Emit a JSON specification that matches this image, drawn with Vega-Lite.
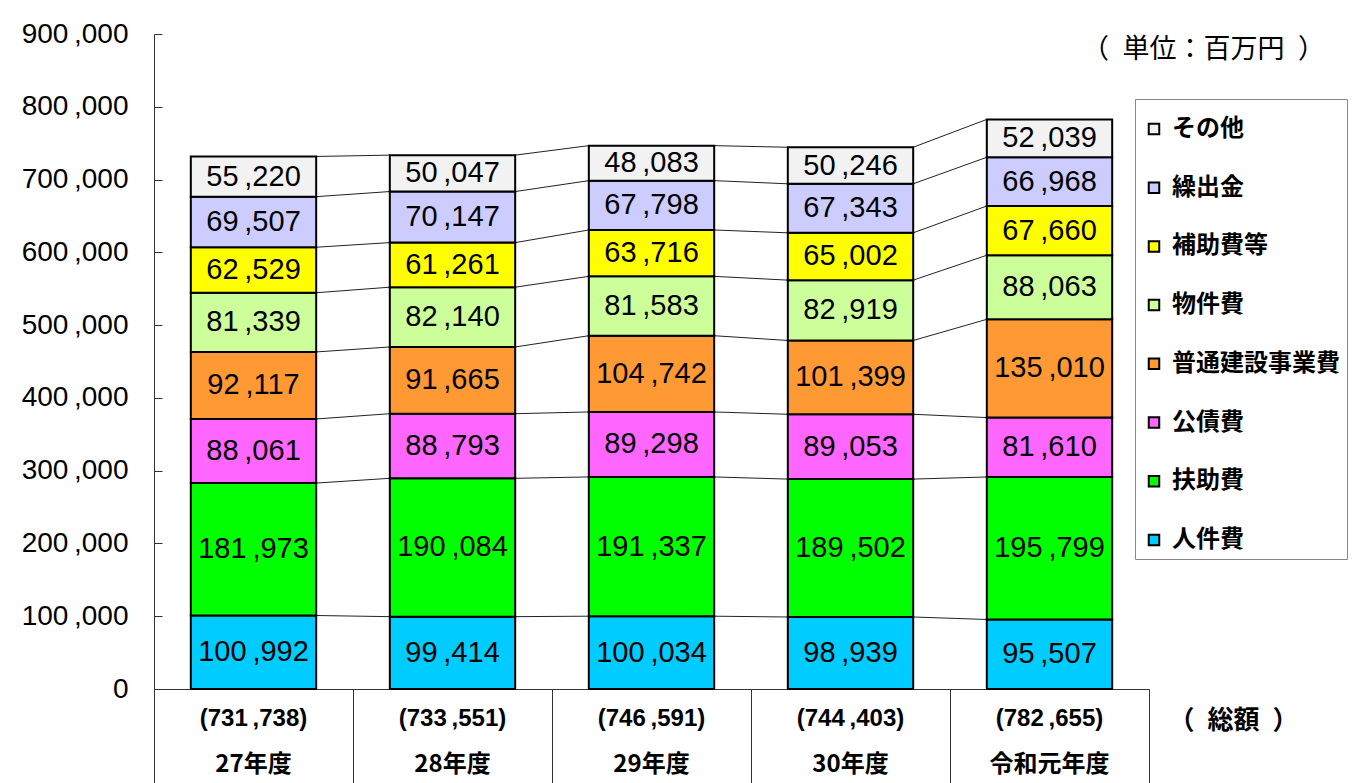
{
  "$schema": "https://vega.github.io/schema/vega-lite/v6.json",
  "autosize": {"type": "none"},
  "padding": {"left": 154, "top": 34, "right": 206, "bottom": 94},
  "width": 995,
  "height": 655,
  "background": "white",
  "title": {
    "text": "（\u2002単位：百万円\u2002）",
    "anchor": "end",
    "frame": "group",
    "orient": "top",
    "offset": 0,
    "baseline": "middle",
    "dx": 176,
    "dy": 57,
    "font": "Noto Sans CJK JP",
    "fontSize": 27,
    "fontWeight": "normal",
    "color": "#000000"
  },
  "datasets": {
    "costs": [
      {"year": "27年度", "item": "人件費", "value": 100992, "k": 1},
      {"year": "27年度", "item": "扶助費", "value": 181973, "k": 2},
      {"year": "27年度", "item": "公債費", "value": 88061, "k": 3},
      {"year": "27年度", "item": "普通建設事業費", "value": 92117, "k": 4},
      {"year": "27年度", "item": "物件費", "value": 81339, "k": 5},
      {"year": "27年度", "item": "補助費等", "value": 62529, "k": 6},
      {"year": "27年度", "item": "繰出金", "value": 69507, "k": 7},
      {"year": "27年度", "item": "その他", "value": 55220, "k": 8},
      {"year": "28年度", "item": "人件費", "value": 99414, "k": 1},
      {"year": "28年度", "item": "扶助費", "value": 190084, "k": 2},
      {"year": "28年度", "item": "公債費", "value": 88793, "k": 3},
      {"year": "28年度", "item": "普通建設事業費", "value": 91665, "k": 4},
      {"year": "28年度", "item": "物件費", "value": 82140, "k": 5},
      {"year": "28年度", "item": "補助費等", "value": 61261, "k": 6},
      {"year": "28年度", "item": "繰出金", "value": 70147, "k": 7},
      {"year": "28年度", "item": "その他", "value": 50047, "k": 8},
      {"year": "29年度", "item": "人件費", "value": 100034, "k": 1},
      {"year": "29年度", "item": "扶助費", "value": 191337, "k": 2},
      {"year": "29年度", "item": "公債費", "value": 89298, "k": 3},
      {"year": "29年度", "item": "普通建設事業費", "value": 104742, "k": 4},
      {"year": "29年度", "item": "物件費", "value": 81583, "k": 5},
      {"year": "29年度", "item": "補助費等", "value": 63716, "k": 6},
      {"year": "29年度", "item": "繰出金", "value": 67798, "k": 7},
      {"year": "29年度", "item": "その他", "value": 48083, "k": 8},
      {"year": "30年度", "item": "人件費", "value": 98939, "k": 1},
      {"year": "30年度", "item": "扶助費", "value": 189502, "k": 2},
      {"year": "30年度", "item": "公債費", "value": 89053, "k": 3},
      {"year": "30年度", "item": "普通建設事業費", "value": 101399, "k": 4},
      {"year": "30年度", "item": "物件費", "value": 82919, "k": 5},
      {"year": "30年度", "item": "補助費等", "value": 65002, "k": 6},
      {"year": "30年度", "item": "繰出金", "value": 67343, "k": 7},
      {"year": "30年度", "item": "その他", "value": 50246, "k": 8},
      {"year": "令和元年度", "item": "人件費", "value": 95507, "k": 1},
      {"year": "令和元年度", "item": "扶助費", "value": 195799, "k": 2},
      {"year": "令和元年度", "item": "公債費", "value": 81610, "k": 3},
      {"year": "令和元年度", "item": "普通建設事業費", "value": 135010, "k": 4},
      {"year": "令和元年度", "item": "物件費", "value": 88063, "k": 5},
      {"year": "令和元年度", "item": "補助費等", "value": 67660, "k": 6},
      {"year": "令和元年度", "item": "繰出金", "value": 66968, "k": 7},
      {"year": "令和元年度", "item": "その他", "value": 52039, "k": 8}
    ],
    "totals": [
      {"year": "27年度", "total": 731738},
      {"year": "28年度", "total": 733551},
      {"year": "29年度", "total": 746591},
      {"year": "30年度", "total": 744403},
      {"year": "令和元年度", "total": 782655}
    ]
  },
  "encoding": {
    "x": {
      "field": "year",
      "type": "nominal",
      "sort": ["27年度", "28年度", "29年度", "30年度", "令和元年度"],
      "scale": {"paddingInner": 0, "paddingOuter": 0},
      "axis": {
        "labels": false,
        "ticks": true,
        "tickBand": "extent",
        "tickSize": 94,
        "tickColor": "#333333",
        "tickWidth": 1,
        "domain": true,
        "domainColor": "#333333",
        "domainWidth": 1,
        "title": "（\u2002総額\u2002）",
        "titleX": 1079,
        "titleY": 31,
        "titleAlign": "center",
        "titleBaseline": "middle",
        "titleAngle": 0,
        "titleFont": "Noto Sans CJK JP",
        "titleFontSize": 26,
        "titleFontWeight": "bold",
        "titleColor": "#000000"
      }
    }
  },
  "layer": [
    {
      "data": {"name": "costs"},
      "transform": [
        {"stack": "value", "groupby": ["year"], "sort": [{"field": "k", "order": "ascending"}], "as": ["y0", "y1"]},
        {"window": [{"op": "lead", "field": "y1", "as": "next_y1"}, {"op": "lead", "field": "year", "as": "next_year"}], "groupby": ["item"], "sort": [{"field": "year", "order": "ascending"}], "frame": [null, null]},
        {"filter": "datum.next_year != null"}
      ],
      "mark": {"type": "rule", "color": "#222222", "strokeWidth": 1},
      "encoding": {
        "x": {"field": "year", "type": "nominal", "bandPosition": 0.815},
        "x2": {"field": "next_year", "bandPosition": 0.185},
        "y": {
          "field": "y1",
          "type": "quantitative",
          "scale": {"domain": [0, 900000], "nice": false, "zero": true},
          "axis": {
            "values": [0, 100000, 200000, 300000, 400000, 500000, 600000, 700000, 800000, 900000],
            "labelExpr": "replace(format(datum.value, ','), ',', '\u2009,')",
            "title": null,
            "grid": false,
            "domain": true,
            "domainColor": "#333333",
            "ticks": true,
            "tickSize": -8,
            "tickColor": "#333333",
            "labelPadding": 34,
            "labelFont": "Liberation Sans",
            "labelFontSize": 28,
            "labelColor": "#000000"
          }
        },
        "y2": {"field": "next_y1"}
      }
    },
    {
      "data": {"name": "costs"},
      "mark": {"type": "bar", "width": {"band": 0.63}, "stroke": "#000000", "strokeWidth": 2},
      "encoding": {
        "y": {
          "field": "value",
          "type": "quantitative",
          "stack": "zero",
          "scale": {"domain": [0, 900000], "nice": false},
          "axis": {
            "values": [0, 100000, 200000, 300000, 400000, 500000, 600000, 700000, 800000, 900000],
            "labelExpr": "replace(format(datum.value, ','), ',', '\u2009,')",
            "title": null,
            "grid": false,
            "domain": true,
            "domainColor": "#333333",
            "ticks": true,
            "tickSize": -8,
            "tickColor": "#333333",
            "labelPadding": 34,
            "labelFont": "Liberation Sans",
            "labelFontSize": 28,
            "labelColor": "#000000"
          }
        },
        "order": {"field": "k", "type": "quantitative", "sort": "ascending"},
        "color": {
          "field": "item",
          "type": "nominal",
          "scale": {
            "domain": ["その他", "繰出金", "補助費等", "物件費", "普通建設事業費", "公債費", "扶助費", "人件費"],
            "range": ["#F2F2F2", "#CCCCFF", "#FFFF00", "#CCFF99", "#FF9933", "#FF66FF", "#00FF00", "#00CCFF"]
          },
          "legend": {
            "title": " ",
            "titleFontSize": 11,
            "titlePadding": 0,
            "orient": "none",
            "legendX": 981,
            "legendY": 65,
            "symbolType": "square",
            "symbolSize": 110,
            "symbolStrokeColor": "#000000",
            "symbolStrokeWidth": 2,
            "symbolFillOpacity": 1,
            "labelFont": "Noto Sans CJK JP",
            "labelFontSize": 24,
            "labelFontWeight": "bold",
            "labelColor": "#000000",
            "labelOffset": 6,
            "labelLimit": 300,
            "rowPadding": 34.7,
            "padding": 7,
            "strokeColor": "#888888",
            "fillColor": "#ffffff"
          }
        }
      }
    },
    {
      "data": {"name": "costs"},
      "transform": [
        {"stack": "value", "groupby": ["year"], "sort": [{"field": "k", "order": "ascending"}], "as": ["y0", "y1"]},
        {"calculate": "(datum.y0 + datum.y1) / 2", "as": "mid"},
        {"calculate": "replace(format(datum.value, ','), ',', '\u2009,')", "as": "lbl"}
      ],
      "mark": {"type": "text", "font": "Liberation Sans", "fontSize": 29, "color": "#000000", "baseline": "middle", "align": "center"},
      "encoding": {
        "y": {"field": "mid", "type": "quantitative"},
        "text": {"field": "lbl", "type": "nominal"}
      }
    },
    {
      "data": {"name": "totals"},
      "transform": [
        {"calculate": "'(' + replace(format(datum.total, ','), ',', '\u2009,') + ')'", "as": "lbl"}
      ],
      "mark": {"type": "text", "font": "Liberation Sans", "fontSize": 24, "fontWeight": "bold", "color": "#000000", "baseline": "middle", "align": "center", "dy": 30},
      "encoding": {
        "y": {"datum": 0, "type": "quantitative"},
        "text": {"field": "lbl", "type": "nominal"}
      }
    },
    {
      "data": {"name": "totals"},
      "mark": {"type": "text", "font": "Noto Sans CJK JP", "fontSize": 24, "fontWeight": "bold", "color": "#000000", "baseline": "middle", "align": "center", "dy": 76},
      "encoding": {
        "y": {"datum": 0, "type": "quantitative"},
        "text": {"field": "year", "type": "nominal"}
      }
    }
  ],
  "config": {
    "view": {"stroke": null},
    "font": "Noto Sans CJK JP"
  }
}
